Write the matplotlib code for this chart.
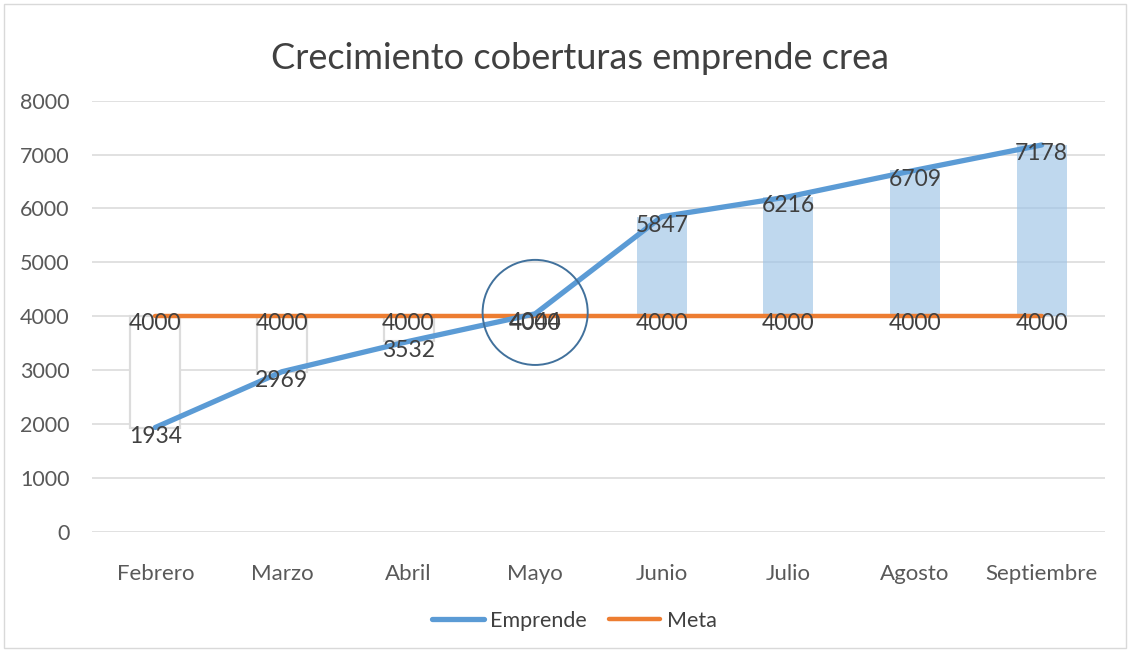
import matplotlib.pyplot as plt
from matplotlib.patches import Ellipse, Rectangle
import numpy as np

# Chart data
meses = ['Febrero', 'Marzo', 'Abril', 'Mayo', 'Junio', 'Julio', 'Agosto', 'Septiembre']
emprende = [1934, 2969, 3532, 4044, 5847, 6216, 6709, 7178]
meta = [4000, 4000, 4000, 4000, 4000, 4000, 4000, 4000]
y_ticks = [0, 1000, 2000, 3000, 4000, 5000, 6000, 7000, 8000]

plt.rcParams['font.family'] = ['Lato', 'DejaVu Sans']

fig = plt.figure(figsize=(11.31, 6.52), dpi=100)
ax = fig.add_axes([0.0813, 0.1845, 0.8957, 0.6611])

x = np.arange(len(meses))
emp = np.array(emprende)
met = np.array(meta)

# gridlines
for t in y_ticks:
    ax.axhline(t, color='#d9d9d9', lw=1.1, zorder=0)

# up / down bars between the two series
diff = emp - met
for xi, d, m in zip(x, diff, met):
    if d < 0:
        ax.bar(xi, d, bottom=m, width=0.395, facecolor='white',
               edgecolor='#dcdcdc', linewidth=1.6, zorder=1)
    else:
        ax.bar(xi, d, bottom=m, width=0.395, facecolor='#9dc3e6',
               alpha=0.65, edgecolor='none', zorder=1)

ax.plot(x, met, color='#ed7d31', lw=3.2, solid_capstyle='round', label='Meta', zorder=2)
ax.plot(x, emp, color='#5b9bd5', lw=3.8, solid_capstyle='round', label='Emprende', zorder=3)

# data labels
for xi, v in zip(x, met):
    ax.annotate(str(v), (xi, v), xytext=(0, -5.5), textcoords='offset points',
                ha='center', va='center', fontsize=16.5, color='#404040', zorder=4)
for xi, v in zip(x, emp):
    ax.annotate(str(v), (xi, v), xytext=(0, -6.5), textcoords='offset points',
                ha='center', va='center', fontsize=16.5, color='#404040', zorder=4)

# circle highlighting Mayo
ax.add_patch(Ellipse((3, 4070), width=0.83, height=1950, fill=False,
                     edgecolor='#41719c', lw=1.4, zorder=5))

ax.set_xlim(-0.5, len(meses) - 0.5)
ax.set_ylim(0, 8000)
ax.set_yticks(y_ticks)
ax.set_yticklabels([str(t) for t in y_ticks])
ax.set_xticks(x)
ax.set_xticklabels(meses)
ax.tick_params(axis='both', length=0, labelsize=15.5, colors='#595959')
ax.tick_params(axis='x', pad=23, labelsize=16)
ax.tick_params(axis='y', pad=16)
for s in ax.spines.values():
    s.set_visible(False)

fig.text(0.513, 0.91, 'Crecimiento coberturas emprende crea', ha='center', va='center',
         fontsize=26, color='#404040')

handles, labels = ax.get_legend_handles_labels()
fig.legend(handles[::-1], labels[::-1], loc='center', bbox_to_anchor=(0.508, 0.048), ncol=2,
           frameon=False, fontsize=15.5, handlelength=2.4, columnspacing=1.0,
           handletextpad=0.3, labelcolor='#404040')

fig.patches.append(Rectangle((4 / 1131, 4 / 652), 1122 / 1131, 644 / 652, transform=fig.transFigure,
                             fill=False, edgecolor='#d9d9d9', lw=1.0))

fig.savefig('out.png', dpi=100)
